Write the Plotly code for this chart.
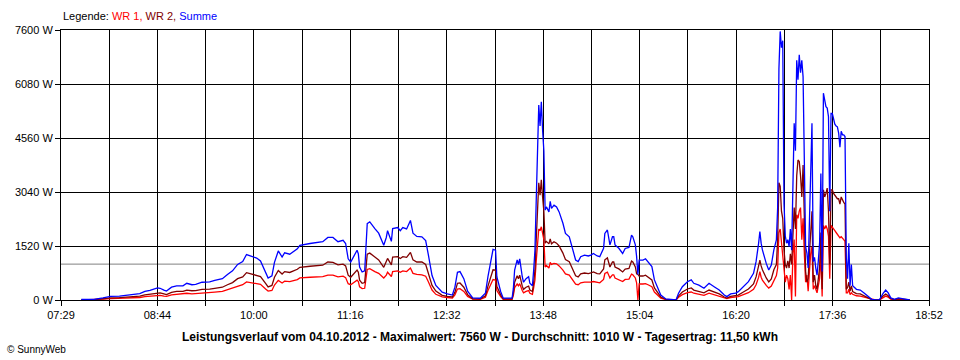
import datetime as dt
import plotly.graph_objects as go

DAY = "2012-10-04"

TIMES = [
    "07:45", "07:55", "08:02", "08:08", "08:15", "08:23", "08:31", "08:35", "08:39", "08:45",
    "08:47", "08:50", "08:52", "08:56", "09:00", "09:05", "09:08", "09:12", "09:15", "09:20",
    "09:26", "09:30", "09:36", "09:40", "09:44", "09:48", "09:52", "09:55", "09:59", "10:03",
    "10:06", "10:10", "10:12", "10:15", "10:17", "10:20", "10:23", "10:25", "10:29", "10:35",
    "10:37", "10:45", "10:50", "10:55", "10:59", "11:03", "11:07", "11:11", "11:13", "11:15",
    "11:17", "11:19", "11:22", "11:23", "11:24", "11:26", "11:28", "11:30", "11:32", "11:36",
    "11:39", "11:43", "11:45", "11:46", "11:49", "11:50", "11:54", "11:56", "11:58", "12:01",
    "12:04", "12:06", "12:09", "12:13", "12:16", "12:18", "12:21", "12:24", "12:29", "12:33",
    "12:37", "12:39", "12:41", "12:43", "12:46", "12:49", "12:53", "12:59", "13:03", "13:05",
    "13:08", "13:09", "13:11", "13:12", "13:15", "13:17", "13:24", "13:25", "13:26", "13:28",
    "13:29", "13:30", "13:32", "13:33", "13:35", "13:37", "13:38", "13:40", "13:41", "13:42",
    "13:43", "13:44", "13:45", "13:46", "13:47", "13:48", "13:49", "13:50", "13:51", "13:53",
    "13:54", "13:55", "13:57", "13:59", "14:01", "14:04", "14:06", "14:09", "14:12", "14:14",
    "14:16", "14:18", "14:21", "14:24", "14:26", "14:28", "14:31", "14:33", "14:36", "14:37",
    "14:39", "14:40", "14:41", "14:43", "14:44", "14:45", "14:48", "14:51", "14:53", "14:56",
    "14:58", "14:59", "15:01", "15:02", "15:03", "15:04", "15:07", "15:09", "15:11", "15:14",
    "15:16", "15:19", "15:21", "15:25", "15:30", "15:33", "15:35", "15:38", "15:42", "15:45",
    "15:47", "15:51", "15:55", "15:59", "16:03", "16:07", "16:11", "16:13", "16:16", "16:20",
    "16:22", "16:26", "16:30", "16:34", "16:36", "16:38", "16:39", "16:40", "16:41", "16:44",
    "16:46", "16:48", "16:50", "16:52", "16:53", "16:54", "16:55", "16:56", "16:57", "16:58",
    "16:59", "17:00", "17:01", "17:02", "17:03", "17:04", "17:05", "17:06", "17:07", "17:08",
    "17:09", "17:10", "17:11", "17:12", "17:13", "17:14", "17:15", "17:16", "17:17", "17:18",
    "17:19", "17:20", "17:21", "17:22", "17:23", "17:24", "17:25", "17:26", "17:27", "17:28",
    "17:29", "17:30", "17:31", "17:32", "17:33", "17:34", "17:35", "17:36", "17:37", "17:38",
    "17:39", "17:40", "17:41", "17:42", "17:43", "17:44", "17:45", "17:46", "17:47", "17:48",
    "17:49", "17:50", "17:51", "17:52", "17:55", "17:58", "18:01", "18:04", "18:07", "18:10",
    "18:13", "18:16", "18:18", "18:20", "18:22", "18:25", "18:28", "18:31", "18:35", "18:37",
]

SUMME = [
    15, 20, 60, 100, 110, 150, 180, 240, 270, 340,
    330, 280, 250, 360, 400, 400, 470, 430, 440, 500,
    510, 550, 600, 720, 820, 1000, 1080, 1280, 1220, 1180,
    1100, 780, 620, 680, 1060, 1380, 1210, 1330, 1290, 1440,
    1540, 1590, 1610, 1640, 1760, 1760, 1640, 1680, 1590, 1160,
    1070, 1200, 1400, 1300, 930, 790, 820, 2150, 2200, 2010,
    1880, 1540, 1760, 1950, 1650, 2010, 2040, 1950, 2040, 2000,
    2240, 1880, 1790, 1780, 1670, 1290, 690, 410, 220, 170,
    140, 360, 780, 800, 600, 250, 60, 50, 190, 655,
    1315, 1425, 1400, 655, 240, 50, 50, 325, 845, 1130,
    1000, 1160, 655, 500, 600, 655, 470, 400, 845, 1405,
    2800, 3940, 5490, 4900, 5580, 4785, 4200, 2530, 2620, 2480,
    2780, 2580, 2670, 2620, 2480, 2160, 1875, 1780, 1405, 1125,
    1080, 1220, 1265, 1240, 1265, 1310, 1240, 1220, 1455, 1875,
    1970, 1780, 1550, 1780, 1780, 1550, 1455, 1310, 1450, 1480,
    1825, 1780, 1550, 1220, 720, 1125, 1125, 1160, 1080, 940,
    565, 280, 140, 30, 0, 0, 190, 375, 515, 565,
    470, 420, 330, 470, 375, 280, 140, 95, 170, 190,
    235, 375, 515, 750, 1080, 1595, 1925, 1600, 1410, 1030,
    845, 985, 1410, 1690, 2600, 6500, 7560, 7100, 7300, 2700,
    1800, 1600, 1700, 1500, 2000, 1400, 3500, 4975, 4200, 6750,
    6200, 6900, 6400, 6750, 6280, 3750, 1500, 1320, 900, 2200,
    3750, 4975, 1080, 1200, 900, 700, 1100, 1600, 3560, 800,
    5820, 5600, 5440, 5400, 5160, 2500, 5250, 5250, 5065, 4950,
    4900, 4875, 4700, 4300, 4750, 4650, 4650, 4600, 1200, 600,
    1600, 400, 1000, 400, 300, 280, 200, 100, 20, 0,
    0, 190, 280, 200, 60, 20, 60, 40, 10, 0,
]

WR2 = [
    8, 10, 35, 60, 65, 90, 110, 145, 165, 205,
    200, 170, 150, 215, 240, 240, 280, 260, 265, 300,
    305, 330, 360, 430, 490, 600, 650, 770, 730, 710,
    660, 470, 370, 410, 640, 830, 730, 800, 775, 865,
    920, 950, 960, 980, 1070, 1060, 990, 1010, 960, 700,
    640, 720, 840, 780, 560, 470, 490, 1290, 1320, 1210,
    1130, 920, 1060, 1170, 990, 1210, 1220, 1170, 1220, 1200,
    1340, 1130, 1070, 1070, 1000, 770, 410, 250, 130, 100,
    85, 215, 470, 480, 360, 150, 35, 30, 115, 390,
    790, 850, 840, 390, 145, 30, 30, 195, 500, 680,
    600, 700, 390, 300, 360, 390, 280, 240, 500, 840,
    1700, 2400, 3300, 2950, 3380, 2900, 2500, 1600, 1650, 1580,
    1720, 1580, 1640, 1600, 1520, 1320, 1140, 1080, 850, 680,
    650, 735, 760, 745, 760, 790, 745, 735, 875, 1130,
    1185, 1070, 930, 1070, 1070, 930, 875, 790, 870, 890,
    1095, 1070, 930, 735, 720, 675, 675, 700, 650, 565,
    340, 170, 85, 18, 0, 0, 115, 225, 310, 340,
    280, 250, 200, 280, 225, 170, 85, 55, 100, 115,
    140, 225, 310, 450, 650, 960, 1125, 960, 850, 620,
    510, 590, 850, 1000, 1700, 3300, 3200, 2500, 2300, 1400,
    1000, 900, 1100, 900, 1300, 1000, 1800, 2600, 2000, 3500,
    3940, 3900, 3500, 2900, 3800, 2000, 800, 500, 600, 1300,
    1900, 2500, 500, 700, 400, 300, 600, 900, 1900, 300,
    3100, 2900, 3000, 3150, 2500, 1000, 3100, 3100, 3000, 2950,
    2900, 2850, 2850, 2700, 2900, 2800, 2750, 2700, 300, 350,
    500, 250, 400, 240, 180, 170, 120, 60, 10, 0,
    0, 115, 170, 120, 35, 10, 35, 25, 5, 0,
]

WR1 = [
    5, 8, 25, 40, 45, 60, 70, 95, 105, 135,
    130, 110, 100, 145, 160, 160, 190, 170, 175, 200,
    205, 220, 240, 290, 330, 400, 430, 510, 490, 470,
    440, 310, 250, 270, 420, 550, 480, 530, 515, 575,
    620, 640, 650, 660, 700, 700, 650, 670, 630, 460,
    430, 480, 560, 520, 370, 320, 330, 860, 880, 800,
    750, 620, 700, 780, 660, 800, 820, 780, 820, 800,
    900, 750, 720, 710, 670, 520, 280, 160, 90, 70,
    55, 145, 310, 320, 240, 100, 25, 20, 75, 265,
    525, 575, 560, 265, 95, 20, 20, 130, 345, 450,
    400, 460, 265, 200, 240, 265, 190, 160, 345, 565,
    1100, 1540, 2000, 1950, 2060, 1880, 1700, 930, 970, 900,
    1060, 1000, 1030, 1020, 960, 840, 735, 700, 555, 445,
    430, 485, 505, 495, 505, 520, 495, 485, 580, 745,
    785, 710, 620, 710, 710, 620, 580, 520, 580, 590,
    730, 710, 620, 485, 0, 450, 450, 460, 430, 375,
    225, 110, 55, 12, 0, 0, 75, 150, 205, 225,
    190, 170, 130, 190, 150, 110, 55, 40, 70, 75,
    95, 150, 205, 300, 430, 635, 800, 640, 560, 410,
    335, 395, 560, 690, 900, 1900, 2000, 1600, 1400, 900,
    500, 700, 600, 300, 700, 0, 1300, 1700, 100, 2400,
    2300, 2500, 2600, 1700, 2300, 1300, 500, 700, 250, 800,
    1300, 1500, 300, 400, 300, 200, 400, 600, 1300, 100,
    2100, 2000, 2100, 2000, 1800, 600, 2100, 2060, 2000, 1950,
    1900, 1850, 1800, 1750, 1780, 1750, 1700, 1650, 200, 200,
    300, 150, 200, 160, 120, 110, 80, 40, 10, 0,
    0, 75, 110, 80, 25, 10, 25, 15, 5, 0,
]

Y_TICKS = [0, 1520, 3040, 4560, 6080, 7600]
Y_LABELS = ["0 W", "1520 W", "3040 W", "4560 W", "6080 W", "7600 W"]
X_LABELS = ["07:29", "08:44", "10:00", "11:16", "12:32", "13:48", "15:04", "16:20", "17:36", "18:52"]
X_START = "07:29"
X_STEP_MIN = 37.95          # one grid interval (labels every second interval)
X_INTERVALS = 18
AVERAGE = 1010

TITLE = ("Leistungsverlauf vom 04.10.2012 - Maximalwert: 7560 W - "
         "Durchschnitt: 1010 W - Tagesertrag: 11,50 kWh")

assert len(TIMES) == len(SUMME) == len(WR1) == len(WR2)


def to_dt(hhmm):
    return dt.datetime.strptime(f"{DAY} {hhmm}", "%Y-%m-%d %H:%M")


xs = [to_dt(t) for t in TIMES]
start = to_dt(X_START)
tickvals = [start + dt.timedelta(minutes=X_STEP_MIN * k) for k in range(X_INTERVALS + 1)]
ticktext = [X_LABELS[k // 2] if k % 2 == 0 else "" for k in range(X_INTERVALS + 1)]

FONT = "Liberation Sans, Arial, sans-serif"

fig = go.Figure()
for name, vals, color in [("WR 1", WR1, "#FF0000"), ("WR 2", WR2, "#800000"), ("Summe", SUMME, "#0000FF")]:
    fig.add_trace(go.Scatter(x=xs, y=vals, mode="lines", name=name,
                             line=dict(color=color, width=1.3),
                             hoverinfo="skip", showlegend=False))

fig.add_shape(type="line", xref="paper", x0=0, x1=1, yref="y", y0=AVERAGE, y1=AVERAGE,
              line=dict(color="#808080", width=1), layer="below")

axis_common = dict(
    showgrid=True, gridcolor="#000000", gridwidth=1,
    showline=True, linecolor="#000000", linewidth=1, mirror=True,
    ticks="outside", ticklen=5, tickcolor="#000000", tickwidth=1,
    zeroline=False, automargin=False,
    tickfont=dict(family=FONT, size=11, color="#000000"),
)

fig.update_layout(
    width=960, height=360,
    margin=dict(l=61, r=31, t=30, b=60, autoexpand=False),
    paper_bgcolor="#FFFFFF", plot_bgcolor="#FFFFFF",
    showlegend=False, hovermode=False,
    xaxis=dict(type="date", range=[tickvals[0], tickvals[-1]],
               tickmode="array", tickvals=tickvals, ticktext=ticktext, **axis_common),
    yaxis=dict(range=[0, 7600], tickmode="array", tickvals=Y_TICKS, ticktext=Y_LABELS, **axis_common),
    annotations=[
        dict(xref="paper", yref="paper", x=0, y=1 + 14 / 270, xanchor="left", yanchor="middle",
             showarrow=False, font=dict(family=FONT, size=11, color="#000000"),
             text=("Legende: <span style='color:#FF0000'>WR 1,</span> "
                   "<span style='color:#800000'>WR 2,</span> "
                   "<span style='color:#0000FF'>Summe</span>")),
        dict(xref="paper", yref="paper", x=(480 - 61) / 868, y=-37 / 270, xanchor="center",
             yanchor="middle", showarrow=False,
             font=dict(family=FONT, size=12, color="#000000"), text=f"<b>{TITLE}</b>"),
        dict(xref="paper", yref="paper", x=-56 / 868, y=-49 / 270, xanchor="left",
             yanchor="middle", showarrow=False,
             font=dict(family=FONT, size=10, color="#000000"), text="© SunnyWeb"),
    ],
)

fig.write_html("out.html", config={"displayModeBar": False},
               post_script="document.body.style.margin='0';document.body.style.padding='0';")
